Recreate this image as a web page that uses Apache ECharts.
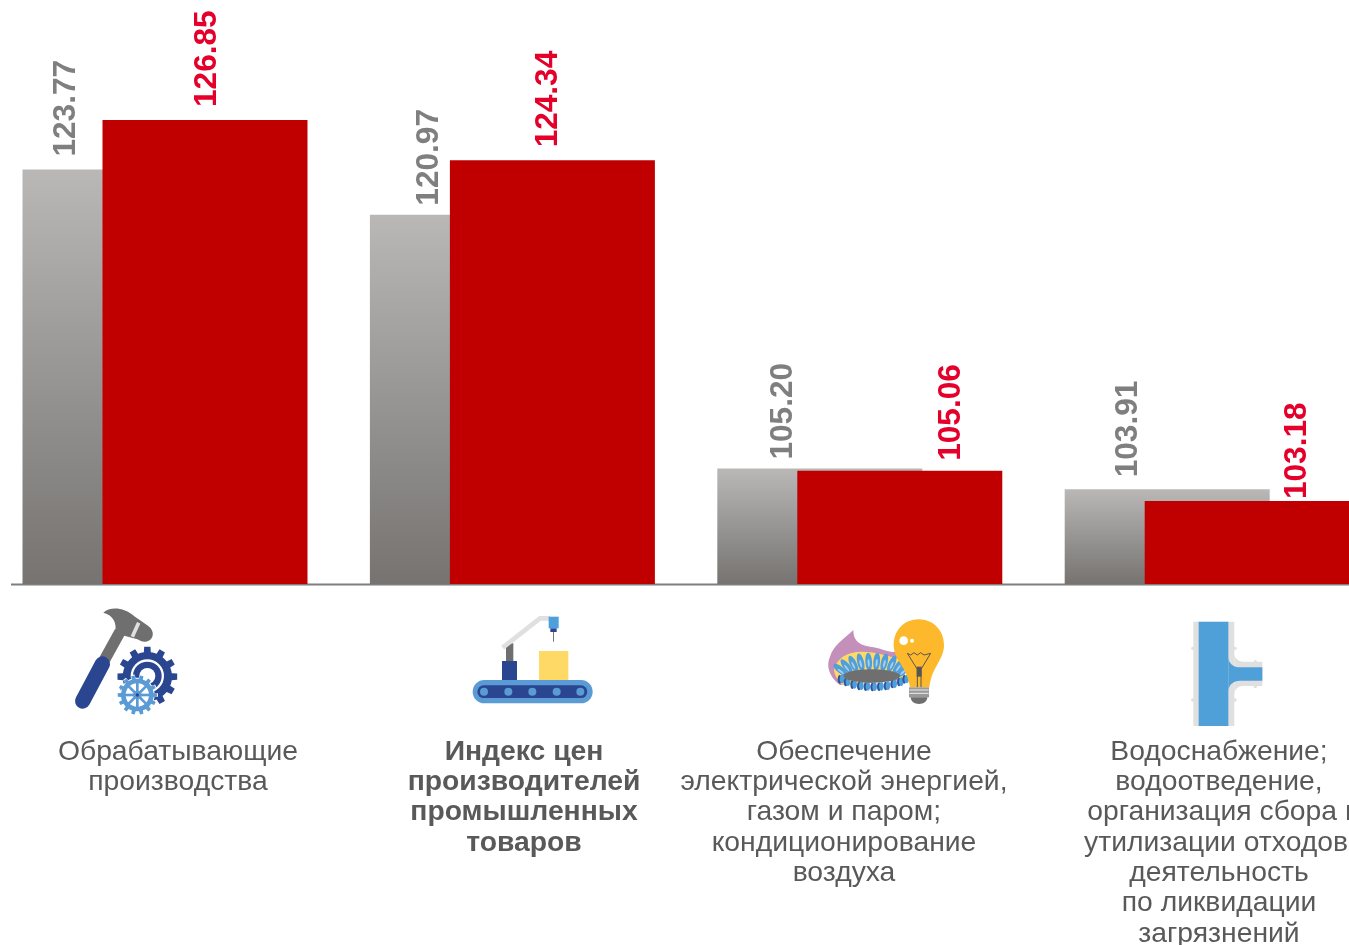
<!DOCTYPE html>
<html><head><meta charset="utf-8">
<style>html,body{margin:0;padding:0;background:#fff;overflow:hidden}#c{position:absolute;left:-30px;top:0;width:1420px;height:945px}</style>
<script src="https://cdn.jsdelivr.net/npm/echarts@6/dist/echarts.min.js"></script>
</head><body><div id="c"></div>
<script>
const categories = ['Обрабатывающие производства','Индекс цен производителей промышленных товаров','Обеспечение электрической энергией, газом и паром; кондиционирование воздуха','Водоснабжение; водоотведение, организация сбора и утилизации отходов, деятельность по ликвидации загрязнений'];
const greyValues = [123.77,120.97,105.20,103.91];
const redValues = [126.85,124.34,105.06,103.18];
const catLines = [
 ['Обрабатывающие','производства'],
 ['Индекс цен','производителей','промышленных','товаров'],
 ['Обеспечение','электрической энергией,','газом и паром;','кондиционирование','воздуха'],
 ['Водоснабжение;','водоотведение,','организация сбора и','утилизации отходов,','деятельность','по ликвидации','загрязнений']
];
const catCenters = [178,524,844,1219];
const catBold = [false,true,false,false];
const greyLabelOffsets = [[-59,-13],[-43,-9],[-37,-9],[-39,-12]];
const redLabelOffsets = [[2,-13],[-4.5,-13],[51,-10],[50,-2]];
const lineShift = (cat,line)=>cat===3?({2:5,3:1}[line]||0):0;

const BLUE='#2a4690', LB='#5b9bd5', GR='#6f6f6f', LG='#e0e0e0', YE='#ffd966';
function gear(cx,cy,r1,r2,n){
  let d='';
  for(let i=0;i<n;i++){
    const s=2*Math.PI/n, a=i*s;
    const pts=[[a-s*.5,r1],[a-s*.27,r1],[a-s*.2,r2],[a+s*.2,r2],[a+s*.27,r1]];
    pts.forEach((p,j)=>{d+=((i===0&&j===0)?'M':'L')+(cx+p[1]*Math.cos(p[0])).toFixed(1)+' '+(cy+p[1]*Math.sin(p[0])).toFixed(1)+' ';});
  }
  return d+'Z';
}
let pathId=0;
const P=(d,fill)=>{const name='iconPath'+(pathId++);echarts.graphic.registerShape(name,echarts.graphic.extendPath(d,{}));return {type:name,style:{fill:fill}};};
const R=(x,y,w,h,fill,r)=>({type:'rect',shape:{x,y,width:w,height:h,r:r||0},style:{fill}});
const C=(cx,cy,r,fill)=>({type:'circle',shape:{cx,cy,r},style:{fill}});
const L=(pts,stroke,w,cap)=>({type:'polyline',shape:{points:pts},style:{stroke,lineWidth:w,fill:'none',lineCap:cap||'butt'}});
const G=(x,y,children)=>({type:'group',x,y,scaleX:1/3,scaleY:1/3,children});

const spokes=[];
for(let i=0;i<8;i++){const a=i*Math.PI/4;spokes.push({type:'line',shape:{x1:232,y1:285,x2:232+42*Math.cos(a),y2:285+42*Math.sin(a)},style:{stroke:LB,lineWidth:8}});}

const icon1=G(60,600,[
  L([[180,95],[125,195]],GR,34),
  L([[127,192],[68,303]],BLUE,46,'round'),
  P('M130 38 C150 20 190 20 225 50 L265 78 C285 92 283 120 258 125 C248 127 240 122 232 118 L165 100 C172 70 160 45 130 38 Z',GR),
  L([[236,68],[217,110]],LG,11),
  P(gear(262,230,74,90,12),BLUE),
  C(262,228,50,'#fff'),C(262,228,43,BLUE),C(262,228,24,'#fff'),
  P(gear(232,285,52,62,14),'#fff'),
  P(gear(232,285,49,59,14),LB),
  C(232,285,35,'#fff'),
  ...spokes,
  C(232,285,13,LB),C(232,285,5,BLUE)
]);
const icon2=G(460,605,[
  R(38,225,360,70,LB,35),
  R(52,241,330,38,BLUE,19),
  ...[72,145,217,290,361].map(x=>C(x,260,12,LB)),
  R(126,168,45,57,BLUE),
  R(138,115,22,53,GR),
  L([[128,128],[240,40],[270,40]],LG,14),
  R(266,35,30,35,'#4f9fdc'),
  R(271,70,19,11,BLUE),
  R(279,81,3,29,'#777'),
  R(237,138,88,87,YE)
]);
const flames=[], lower=[];
[[62,180,-50],[80,170,-38],[100,162,-26],[122,157,-14],[146,155,-4],[170,155,5],[193,157,14],[215,162,24],[235,170,35],[250,182,48]].forEach(f=>{
  flames.push({type:'ellipse',shape:{cx:0,cy:0,rx:10,ry:27},x:f[0],y:f[1],rotation:-f[2]*Math.PI/180,style:{fill:'#4f9fdc'}});
  flames.push({type:'ellipse',shape:{cx:0,cy:0,rx:3,ry:12},x:f[0],y:f[1]+4,rotation:-f[2]*Math.PI/180,style:{fill:'#a9d0ee'}});
});
[62,80,100,120,140,160,180,200,220,240,256].forEach((x,i)=>{
  const y=[208,216,224,228,230,231,230,228,222,216,208][i];
  lower.push({type:'ellipse',shape:{cx:-3,cy:0,rx:6,ry:13},x:x,y:y,style:{fill:'#2f5597'}});
  lower.push({type:'ellipse',shape:{cx:4,cy:0,rx:7,ry:13},x:x,y:y-1,style:{fill:'#4f9fdc'}});
});
const icon3=G(820,610,[
  P('M100 60 C100 85 110 105 150 110 C185 113 205 130 230 125 L262 160 L250 210 L60 225 C35 205 15 175 30 140 C40 105 75 85 100 60 Z','#c48fb8'),
  P('M42 180 C50 145 80 125 125 125 C170 125 210 140 252 150 L250 205 L70 225 C55 215 45 200 42 180 Z',YE),
  ...flames,
  ...lower,
  {type:'ellipse',shape:{cx:155,cy:198,rx:85,ry:20},style:{fill:GR}},
  P('M296 28 C340 28 372 62 372 105 C372 150 335 170 328 232 L270 232 C262 170 221 150 221 105 C221 62 252 28 296 28 Z','#fdb92b'),
  C(251,92,13,'#fff'),C(276,92,6,'#fff'),
  L([[262,130],[272,135],[282,128],[292,135],[302,128],[312,135],[332,130]],'#555',3),
  L([[262,130],[292,178],[292,232]],'#555',3),
  L([[332,130],[303,178],[303,232]],'#555',3),
  R(290,170,15,30,'#555'),
  R(267,232,60,30,'#999'),
  L([[268,240],[326,240]],'#fff',2.5),L([[268,250],[326,250]],'#fff',2.5),
  P('M272 262 L322 262 C322 275 310 282 297 282 C284 282 272 275 272 262 Z',GR)
]);
const icon4=G(1175,610,[
  R(55,35,123,313,LG),
  P('M178 130 C178 145 190 155 205 155 L262 155 L262 228 L205 228 C190 228 178 238 178 255 Z',LG),
  C(53,115,5,LG),C(53,270,5,LG),C(180,115,5,LG),C(180,270,5,LG),C(241,155,5,LG),C(241,230,5,LG),
  R(71,35,89,313,'#4f9fd8'),
  P('M160 140 C160 160 175 172 195 172 L262 172 L262 212 L195 212 C175 212 160 225 160 245 Z','#4f9fd8')
]);

const LINE_H=30.3, FIRST_Y=752;
const textEls=[];
catLines.forEach((lines,i)=>lines.forEach((t,j)=>textEls.push({type:'text',x:catCenters[i]+lineShift(i,j),y:FIRST_Y+j*LINE_H,
  style:{text:t,fill:'#595959',font:(catBold[i]?'bold ':'')+'28.3px "Liberation Sans", Arial, sans-serif',textAlign:'center',textVerticalAlign:'middle'}})));

// label offsets are listed as screen dx,dy; rotated labels take them in their own frame
const mkLabel=(offs)=>(v,i)=>({value:v,label:{offset:[-offs[i][1],offs[i][0]]}});
const labelBase=color=>({show:true,position:'top',rotate:90,align:'left',verticalAlign:'middle',distance:0,
  color,fontSize:31.6,fontWeight:'bold',fontFamily:'"Liberation Sans", Arial, sans-serif',formatter:p=>p.value.toFixed(2)});

const chart=echarts.init(document.getElementById('c'),null,{renderer:'canvas'});
chart.setOption({
  animation:false,
  backgroundColor:'#fff',
  grid:{left:21.3,width:1389.6,top:0,height:584,containLabel:false},
  xAxis:{type:'category',data:categories,axisLine:{show:false},axisTick:{show:false},axisLabel:{show:false}},
  yAxis:{type:'value',min:98.03,max:134.3,show:false,splitLine:{show:false}},
  series:[
    {type:'bar',name:'grey',barWidth:205,barGap:'-60.98%',z:2,
     data:greyValues.map(mkLabel(greyLabelOffsets)),
     itemStyle:{color:new echarts.graphic.LinearGradient(0,0,0,1,[{offset:0,color:'#b9b8b6'},{offset:1,color:'#767371'}])},
     label:labelBase('#7f7f7f')},
    {type:'bar',name:'red',barWidth:205,z:3,
     data:redValues.map(mkLabel(redLabelOffsets)),
     itemStyle:{color:'#c00000'},
     label:labelBase('#e4002b')}
  ],
  graphic:[{type:'group',x:30,y:0,z:10,children:[
    {type:'line',shape:{x1:11,y1:584.5,x2:1349,y2:584.5},style:{stroke:'#7f7f7f',lineWidth:2}},
    icon1,icon2,icon3,icon4,
    ...textEls
  ]}]
});
</script></body></html>
